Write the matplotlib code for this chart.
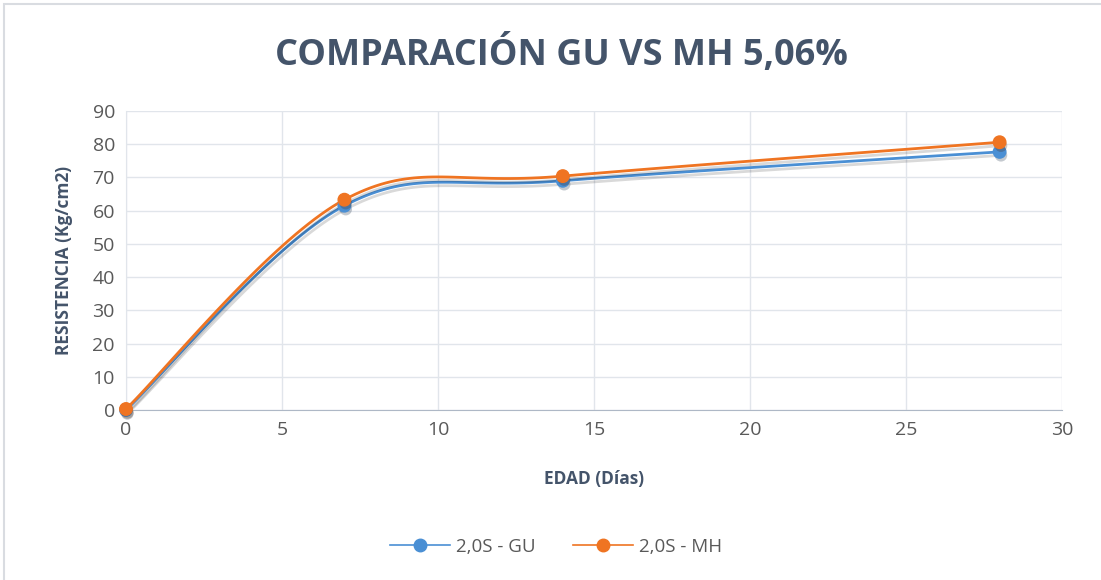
import numpy as np
import matplotlib
matplotlib.use("Agg")
import matplotlib.pyplot as plt
import matplotlib.patheffects as pe
from matplotlib.patches import Rectangle

# datos
edad = [0, 7, 14, 28]
gu = [0.0, 61.5, 69.0, 77.7]
mh = [0.3, 63.3, 70.4, 80.6]
series = ["2,0S - GU", "2,0S - MH"]
colores = ["#4A8FD4", "#EF7422"]


def suavizar(x, y, n=40):
    # curva tipo Excel (Catmull-Rom convertida a Bezier)
    x = np.asarray(x, float)
    y = np.asarray(y, float)
    px = np.concatenate([[x[0]], x, [x[-1]]])
    py = np.concatenate([[y[0]], y, [y[-1]]])
    xs, ys = [], []
    t = np.linspace(0, 1, n)
    for i in range(1, len(px) - 2):
        p0 = np.array([px[i], py[i]])
        p3 = np.array([px[i + 1], py[i + 1]])
        p1 = p0 + (np.array([px[i + 1], py[i + 1]]) - np.array([px[i - 1], py[i - 1]])) / 6
        p2 = p3 - (np.array([px[i + 2], py[i + 2]]) - np.array([px[i], py[i]])) / 6
        b = ((1 - t) ** 3)[:, None] * p0 + (3 * (1 - t) ** 2 * t)[:, None] * p1 \
            + (3 * (1 - t) * t ** 2)[:, None] * p2 + (t ** 3)[:, None] * p3
        xs.extend(b[:, 0])
        ys.extend(b[:, 1])
    return xs, ys


plt.rcParams["font.family"] = ["Open Sans", "DejaVu Sans"]
fig = plt.figure(figsize=(11.01, 5.8), dpi=100)
fig.patches.append(Rectangle((0.004, -0.01), 1.02, 1.003, transform=fig.transFigure,
                             fill=False, edgecolor="#D9DCE1", linewidth=1.5))
ax = fig.add_axes([126 / 1101, 1 - 410 / 580, 936 / 1101, 299 / 580])

sombra = [pe.SimpleLineShadow(offset=(1, -2.5), shadow_color="#000000", alpha=0.15), pe.Normal()]
for vals, nombre, c in zip([gu, mh], series, colores):
    xs, ys = suavizar(edad, vals)
    ax.plot(xs, ys, color=c, linewidth=2, path_effects=sombra, zorder=3, clip_on=False)
    ax.plot(edad, vals, "o", color=c, markersize=9, zorder=4, clip_on=False,
            path_effects=[pe.SimplePatchShadow(offset=(1, -2.5), alpha=0.25), pe.Normal()])
    ax.plot([], [], "-o", color=c, markersize=9, linewidth=1.2, label=nombre)

ax.set_xlim(0, 30)
ax.set_ylim(0, 90)
ax.set_xticks(range(0, 31, 5))
ax.set_yticks(range(0, 91, 10))
ax.grid(True, color="#E1E5EB", linewidth=1)
ax.set_axisbelow(True)
for s in ["top", "right"]:
    ax.spines[s].set_visible(False)
ax.spines["left"].set_color("#E1E5EB")
ax.spines["bottom"].set_color("#AEB8C6")
ax.tick_params(length=0, labelsize=14, colors="#595959", pad=8)

fig.text(561 / 1101, 1 - 55 / 580, "COMPARACIÓN GU VS MH 5,06%", fontsize=26,
         fontweight="bold", color="#44546A", ha="center", va="center")
ax.set_xlabel("EDAD (Días)", fontsize=12.5, fontweight="bold", color="#44546A", labelpad=22)
ax.set_ylabel("RESISTENCIA (Kg/cm2)", fontsize=12.5, fontweight="bold", color="#44546A", labelpad=14)

fig.legend(loc="center", bbox_to_anchor=(0.505, 1 - 547 / 580), ncol=2, frameon=False,
           fontsize=13.5, labelcolor="#595959", handlelength=3.2, columnspacing=2.0,
           handletextpad=0.3)

fig.savefig("out.png", dpi=100, facecolor="white")
